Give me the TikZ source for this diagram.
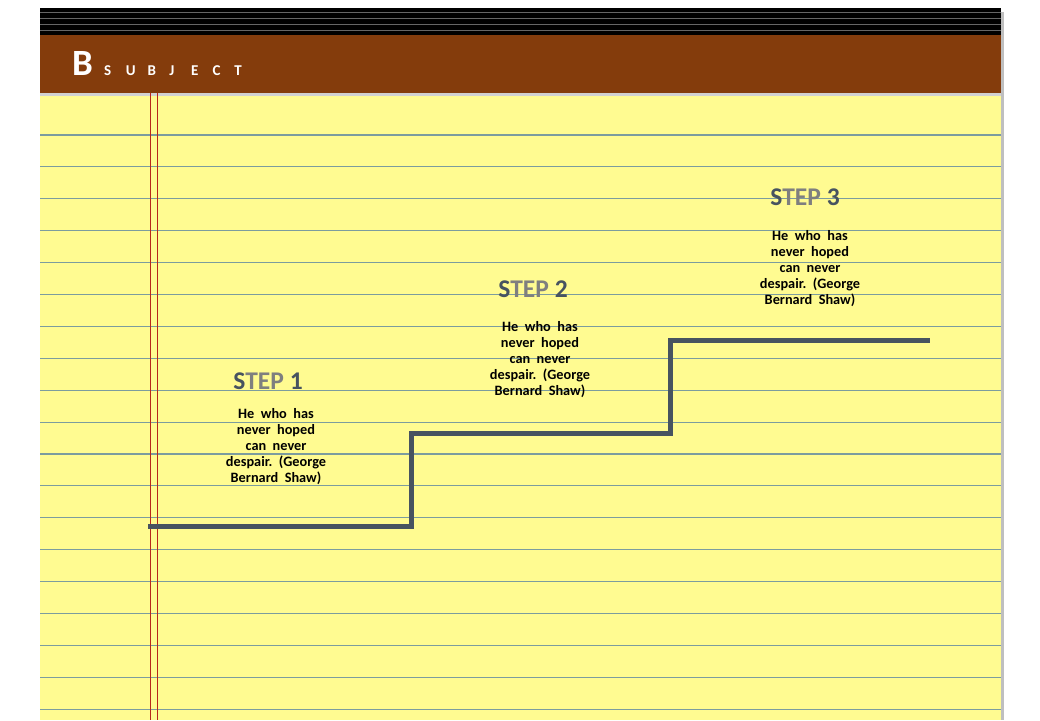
\documentclass[tikz,border=0pt]{standalone}
\usepackage{fontspec}
\setmainfont{Carlito}
\definecolor{pagey}{HTML}{FFFB91}
\definecolor{rule}{HTML}{7C9C9E}
\definecolor{brown}{HTML}{843C0C}
\definecolor{stair}{HTML}{475360}
\definecolor{tgray}{HTML}{7F7F7F}
\definecolor{marg}{HTML}{B8261A}
\tikzset{
  steptitle/.style={font=\fontsize{25.5}{25.5}\selectfont\bfseries, inner sep=0pt},
  stepbody/.style={font=\fontsize{14.3}{16}\selectfont\bfseries, align=center, inner sep=0pt, text=black},
  stairline/.style={draw=stair, line width=5pt},
}
\newcommand{\ttl}[1]{\textcolor{stair}{S}\textcolor{tgray}{TEP} \textcolor{stair}{#1}}
\newcommand{\quotetext}{He\ \ who\ \ has\\never\ \ hoped\\can\ \ never\\despair.\ \ (George\\Bernard\ \ Shaw)}
\newcommand{\ltr}[1]{\makebox[21.7pt][l]{#1}}
\begin{document}
\begin{tikzpicture}[x=1pt,y=-1pt]
\useasboundingbox (0,0) rectangle (1040,720);
\fill[white] (0,0) rectangle (1040,720);
% shadow
\fill[black!25] (1001,12) rectangle (1004,720);
% page
\fill[pagey] (40,93) rectangle (1001,720);
% top black band
\fill[black] (40,8) rectangle (1001,35);
\foreach \yy in {12,18,24,30} \draw[black!60, line width=0.7pt] (40,\yy) -- (1001,\yy);
% brown header
\fill[black!18] (40,93) rectangle (1001,95.5);
\fill[brown] (40,35) rectangle (1001,93);
% ruled lines
\foreach \k in {0,...,18} \draw[rule, line width=1.1pt] (40,{135+31.9*\k}) -- (1001,{135+31.9*\k});
% margin lines
\draw[marg, line width=1.3pt] (150.7,93) -- (150.7,720);
\draw[marg, line width=1.3pt] (157.3,93) -- (157.3,720);
% header text
\node[anchor=base west, inner sep=0pt, text=white, font=\fontsize{37}{37}\selectfont\bfseries] (hb) at (72,75) {B};
\node[anchor=base west, inner sep=0pt, text=white, font=\fontsize{15}{15}\selectfont\bfseries] (hs) at (104,75) {\ltr{S}\ltr{U}\ltr{B}\ltr{J}\ltr{E}\ltr{C}T};
% staircase
\coordinate (p0) at (148,526);
\coordinate (p1) at (411,526);
\coordinate (p2) at (411,433);
\coordinate (p3) at (670,433);
\coordinate (p4) at (670,340);
\coordinate (p5) at (930,340);
\draw[stairline] (p0) -- (p1) -- (p2) -- (p3) -- (p4) -- (p5);
% steps
\node[steptitle] (t1) at (268,381) {\ttl{1}};
\node[stepbody, anchor=north] (b1) at (276,408) {\quotetext};
\node[steptitle] (t2) at (533,289) {\ttl{2}};
\node[stepbody, anchor=north] (b2) at (540,321) {\quotetext};
\node[steptitle] (t3) at (805,197) {\ttl{3}};
\node[stepbody, anchor=north] (b3) at (810,230) {\quotetext};
\end{tikzpicture}
\end{document}
